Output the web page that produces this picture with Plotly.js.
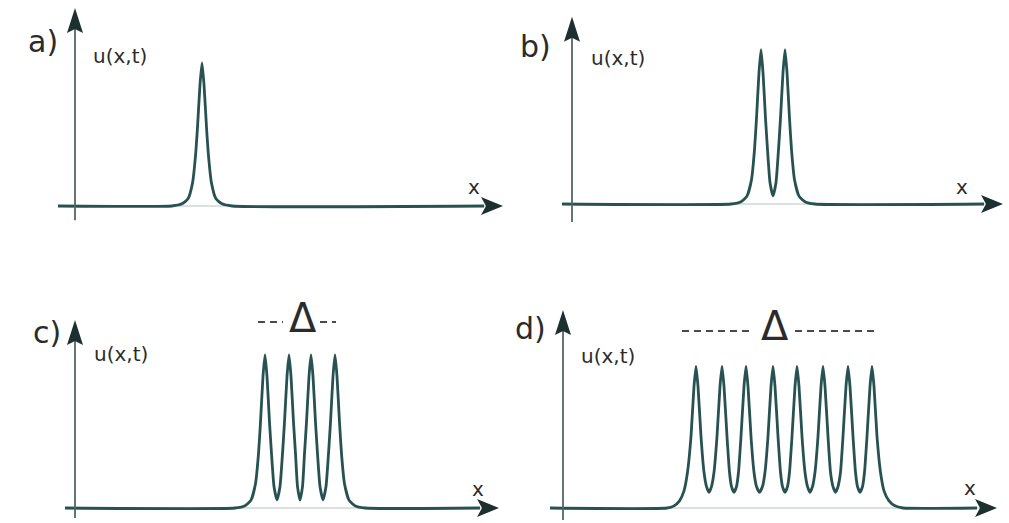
<!DOCTYPE html>
<html><head><meta charset="utf-8">
<script src="https://cdn.plot.ly/plotly-3.0.1.min.js"></script>
<style>html,body{margin:0;padding:0;background:#fff}</style>
</head><body><div id="chart" style="width:1009px;height:523px"></div>
<script>
// ---------- data (x in arbitrary length units from the u-axis, u in units of the single-soliton height) ----------
const panelLabels = ['a)', 'b)', 'c)', 'd)'];
const yLabel = 'u(x,t)';
const xLabel = 'x';
const widthLabel = 'Δ';

const xA = [-1.7, 9.7, 10.7, 11.3, 11.75, 12.05, 12.25, 12.5, 12.7, 12.9, 13.15, 13.35, 13.65, 14.1, 14.7, 15.7, 40.9];
const uA = [0, 0, 0.015, 0.05, 0.16, 0.35, 0.55, 0.85, 1.0, 0.85, 0.55, 0.35, 0.16, 0.05, 0.015, 0, 0];

const xB = [-1.0, 15.9, 16.9, 17.5, 17.95, 18.25, 18.45, 18.7, 18.9, 19.1, 19.35, 19.55, 19.8, 20.1,
            20.4, 20.65, 20.85, 21.1, 21.3, 21.5, 21.75, 21.95, 22.25, 22.7, 23.3, 24.3, 41.2];
const uB = [0, 0, 0.016, 0.055, 0.17, 0.38, 0.6, 0.92, 1.08, 0.92, 0.6, 0.38, 0.15, 0.056,
            0.15, 0.38, 0.6, 0.92, 1.08, 0.92, 0.6, 0.38, 0.17, 0.055, 0.016, 0, 0];

const xC = [-1.0, 16.0, 17.0, 17.6, 18.05, 18.35, 18.55, 18.8, 19.0, 19.2, 19.45, 19.65, 19.9, 20.2,
            20.5, 20.75, 20.95, 21.2, 21.4, 21.6, 21.85, 22.05, 22.25, 22.5,
            22.75, 22.95, 23.15, 23.4, 23.6, 23.8, 24.05, 24.25, 24.5, 24.8,
            25.1, 25.35, 25.55, 25.8, 26.0, 26.2, 26.45, 26.65, 26.95, 27.4, 28.0, 29.0, 40.5];
const uC = [0, 0, 0.016, 0.055, 0.17, 0.38, 0.6, 0.92, 1.07, 0.92, 0.6, 0.38, 0.15, 0.056,
            0.15, 0.38, 0.6, 0.92, 1.07, 0.92, 0.6, 0.38, 0.15, 0.056,
            0.15, 0.38, 0.6, 0.92, 1.07, 0.92, 0.6, 0.38, 0.15, 0.056,
            0.15, 0.38, 0.6, 0.92, 1.07, 0.92, 0.6, 0.38, 0.17, 0.055, 0.016, 0, 0];

const xD = [-1.3, 10.4, 11.1, 11.65, 12.1, 12.45, 12.8, 13.1, 13.3, 13.5, 13.8, 14.1, 14.35, 14.6,
            14.85, 15.1, 15.4, 15.7, 15.9, 16.1, 16.4, 16.65, 16.85, 17.1,
            17.35, 17.55, 17.8, 18.1, 18.3, 18.5, 18.8, 19.1, 19.35, 19.65,
            19.95, 20.2, 20.5, 20.8, 21.0, 21.2, 21.5, 21.75, 21.95, 22.2,
            22.45, 22.65, 22.9, 23.2, 23.4, 23.6, 23.9, 24.2, 24.45, 24.7,
            24.95, 25.2, 25.5, 25.8, 26.0, 26.2, 26.5, 26.75, 27.0, 27.25,
            27.5, 27.75, 28.0, 28.3, 28.5, 28.7, 29.0, 29.25, 29.45, 29.7,
            29.95, 30.15, 30.4, 30.7, 30.9, 31.1, 31.4, 31.75, 32.1, 32.6, 33.2, 34.0, 41.4];
const uD = [0, 0, 0.015, 0.05, 0.12, 0.25, 0.5, 0.85, 0.99, 0.85, 0.5, 0.25, 0.15, 0.11,
            0.15, 0.25, 0.5, 0.85, 0.99, 0.85, 0.5, 0.25, 0.15, 0.11,
            0.15, 0.25, 0.5, 0.85, 0.99, 0.85, 0.5, 0.25, 0.15, 0.11,
            0.15, 0.25, 0.5, 0.85, 0.99, 0.85, 0.5, 0.25, 0.15, 0.11,
            0.15, 0.25, 0.5, 0.85, 0.99, 0.85, 0.5, 0.25, 0.15, 0.11,
            0.15, 0.25, 0.5, 0.85, 0.99, 0.85, 0.5, 0.25, 0.15, 0.11,
            0.15, 0.25, 0.5, 0.85, 0.99, 0.85, 0.5, 0.25, 0.15, 0.11,
            0.15, 0.25, 0.5, 0.85, 0.99, 0.85, 0.5, 0.25, 0.12, 0.05, 0.015, 0, 0];

// ---------- layout geometry (pixels) ----------
const W = 1009, H = 523, SX = 10, SY = 143;
const panels = [
  {box: [0, 505, 0, 232],   ox: 75,  by: 206, xs: -1.7, xt: 42.8, yb: -0.10, yt: 1.385, x: xA, u: uA,
   lab: [43, 41], ul: [120, 56], xl: [474, 187]},
  {box: [505, 1009, 0, 232], ox: 572, by: 204, xs: -1.0, xt: 43.1, yb: -0.126, yt: 1.31, x: xB, u: uB,
   lab: [535, 46], ul: [618, 58], xl: [962, 187]},
  {box: [0, 505, 262, 523], ox: 75,  by: 508, xs: -1.0, xt: 42.4, yb: -0.07, yt: 1.315, x: xC, u: uC,
   lab: [47, 332], ul: [121, 354], xl: [478, 489],
   delta: {c: [303, 318], dl: [258, 283], dr: [320, 336], dy: 322}},
  {box: [505, 1009, 262, 523], ox: 563, by: 508, xs: -1.3, xt: 43.4, yb: -0.084, yt: 1.385, x: xD, u: uD,
   lab: [530, 328], ul: [608, 356], xl: [970, 488],
   delta: {c: [775, 326], dl: [682, 751], dr: [795, 876], dy: 331}}
];

const CURVE = '#285252', HEAD = '#1d3030', TXT = '#2b2b2b';
const traces = [], shapes = [], annotations = [];
const layout = {
  width: W, height: H, margin: {l: 0, r: 0, t: 0, b: 0},
  paper_bgcolor: '#fff', plot_bgcolor: 'rgba(0,0,0,0)', showlegend: false
};

panels.forEach((p, i) => {
  const n = i ? String(i + 1) : '';
  const xr = 'x' + n, yr = 'y' + n;
  const dx = px => (px - p.ox) / SX;
  const dy = py => (p.by - py) / SY;
  layout['xaxis' + n] = {domain: [p.box[0] / W, p.box[1] / W], range: [dx(p.box[0]), dx(p.box[1])],
    visible: false, fixedrange: true, anchor: yr};
  layout['yaxis' + n] = {domain: [1 - p.box[3] / H, 1 - p.box[2] / H], range: [dy(p.box[3]), dy(p.box[2])],
    visible: false, fixedrange: true, anchor: xr};

  traces.push({type: 'scatter', mode: 'lines', x: p.x, y: p.u, xaxis: xr, yaxis: yr,
    line: {color: CURVE, width: 2.8, shape: 'spline', smoothing: 0.5}, hoverinfo: 'skip'});

  // x axis (thin light line) + arrow head
  shapes.push({type: 'line', xref: xr, yref: yr, x0: p.xs, x1: p.xt - 1.5, y0: 0, y1: 0,
    line: {color: '#b7c2c2', width: 1}, layer: 'below'});
  shapes.push({type: 'path', xref: xr, yref: yr, xsizemode: 'pixel', ysizemode: 'pixel',
    xanchor: p.xt, yanchor: 0, path: 'M0,0 L-22,9 L-17,0 L-22,-9 Z',
    fillcolor: HEAD, line: {width: 0}});
  // y axis + arrow head
  shapes.push({type: 'line', xref: xr, yref: yr, x0: 0, x1: 0, y0: p.yb, y1: p.yt - 0.1,
    line: {color: '#526868', width: 1.8}});
  shapes.push({type: 'path', xref: xr, yref: yr, xsizemode: 'pixel', ysizemode: 'pixel',
    xanchor: 0, yanchor: p.yt, path: 'M0,0 L-8,-25 L0,-21 L8,-25 Z',
    fillcolor: HEAD, line: {width: 0}});

  const txt = (pos, text, size) => annotations.push({xref: xr, yref: yr, x: dx(pos[0]), y: dy(pos[1]),
    text: text, showarrow: false, xanchor: 'center', yanchor: 'middle',
    font: {family: 'DejaVu Sans', size: size, color: TXT}});
  txt(p.lab, panelLabels[i], 30);
  txt(p.ul, yLabel, 20);
  txt(p.xl, xLabel, 20);

  if (p.delta) {
    const d = p.delta;
    txt(d.c, widthLabel, 40);
    [d.dl, d.dr].forEach(seg => shapes.push({type: 'line', xref: xr, yref: yr,
      x0: dx(seg[0]), x1: dx(seg[1]), y0: dy(d.dy), y1: dy(d.dy),
      line: {color: '#4a4a4a', width: 1.8, dash: '7px,5px'}}));
  }
});

layout.shapes = shapes;
layout.annotations = annotations;
Plotly.newPlot('chart', traces, layout, {displayModeBar: false, staticPlot: true});
</script></body></html>
